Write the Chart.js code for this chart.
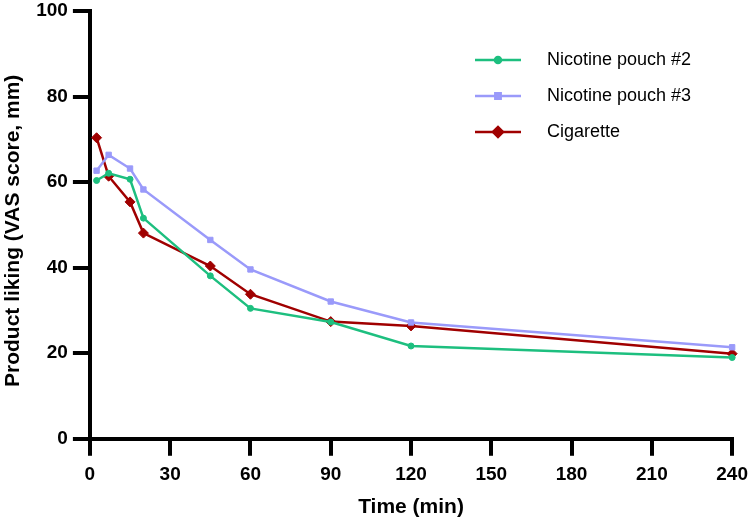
<!DOCTYPE html>
<html>
<head>
<meta charset="utf-8">
<script src="https://cdn.jsdelivr.net/npm/chart.js@4"></script>
<style>
  html, body { margin:0; padding:0; background:#fff; }
  #wrap { width:752px; height:520px; }
</style>
</head>
<body>
<div id="wrap"><canvas id="c" width="752" height="520"></canvas></div>
<script>
// ── data ───────────────────────────────────────────────────────────────────
const times   = [2.5, 7, 15, 20, 45, 60, 90, 120, 240];
const pouch2  = [60.4, 62.1, 60.7, 51.6, 38.1, 30.5, 27.3, 21.7, 19.0];
const pouch3  = [62.7, 66.4, 63.2, 58.3, 46.5, 39.6, 32.1, 27.2, 21.4];
const cigs    = [70.4, 61.4, 55.4, 48.1, 40.4, 33.8, 27.4, 26.4, 19.9];
const labels  = ["Nicotine pouch #2", "Nicotine pouch #3", "Cigarette"];

const C = { green:"#1DBF7F", blue:"#9A9AFA", red:"#A00000", ink:"#000" };
const FONT = "'Liberation Sans', Arial, sans-serif";

const pts = arr => arr.map((v,i)=>({ x:times[i], y:v }));

function series(label, data, color, style, radius){
  return { label, data:pts(data), borderColor:color, backgroundColor:color,
    borderWidth:2.5, pointStyle:style, pointRadius:radius, pointHoverRadius:radius,
    pointBorderWidth:1, pointBorderColor:color, tension:0, clip:false, fill:false };
}

// small canvas used as legend glyph: a line with the marker on it
function legendIcon(ds){
  const cv = document.createElement("canvas");
  cv.width = 63; cv.height = 14;
  const g = cv.getContext("2d");
  g.strokeStyle = ds.borderColor; g.fillStyle = ds.borderColor; g.lineWidth = 2.5;
  g.beginPath(); g.moveTo(0,7); g.lineTo(46,7); g.stroke();
  Chart.helpers.drawPoint(g, { pointStyle:ds.pointStyle, radius:ds.pointRadius, borderWidth:1 }, 23, 7);
  g.fill();
  return cv;
}

// move the legend to where the figure has it
const legendSpot = {
  id:"legendSpot",
  beforeDraw(chart){
    const lg = chart.legend; if(!lg) return;
    const pad = lg.options.labels.padding;
    const dx = (475 - pad) - lg.left, dy = (51 - pad) - lg.top;
    lg.left += dx; lg.right += dx; lg.top += dy; lg.bottom += dy;
  }
};

const titleFont = { family:FONT, size:21, weight:"bold" };
const axisGrid = { display:true, drawOnChartArea:false, drawTicks:true, tickLength:17,
                   tickWidth:4, tickColor:C.ink, color:C.ink, lineWidth:4 };

new Chart(document.getElementById("c"), {
  type:"line",
  data:{ datasets:[
    series(labels[0], pouch2, C.green, "circle", 3),
    series(labels[1], pouch3, C.blue, "rect", 3.8),
    series(labels[2], cigs, C.red, "rectRot", 5),
  ]},
  options:{
    responsive:false, animation:false, devicePixelRatio:1,
    layout:{ padding:{ top:0, right:0, bottom:0, left:0 } },
    plugins:{
      tooltip:{ enabled:false },
      legend:{ position:"chartArea", align:"start",
        labels:{ usePointStyle:true, pointStyleWidth:63, padding:18, color:C.ink,
          font:{ family:FONT, size:18 },
          generateLabels:(chart)=>chart.data.datasets.map((ds,i)=>({
            text:ds.label, pointStyle:legendIcon(ds), fontColor:C.ink, datasetIndex:i,
            hidden:false, lineWidth:0, strokeStyle:"transparent", fillStyle:"transparent" })) } },
    },
    scales:{
      x:{ type:"linear", min:0, max:240,
        grid:axisGrid, border:{ display:true, width:4, color:C.ink },
        ticks:{ stepSize:30, color:C.ink, font:{ family:FONT, size:19, weight:"bold", lineHeight:1.58 },
                padding:4, maxRotation:0 },
        title:{ display:true, text:"Time (min)", color:C.ink, font:titleFont, padding:{ top:1, bottom:0 } } },
      y:{ min:0, max:100,
        grid:axisGrid, border:{ display:true, width:4, color:C.ink },
        ticks:{ stepSize:20, color:C.ink, font:{ family:FONT, size:19, weight:"bold", lineHeight:0.65 }, padding:5 },
        // two trailing spaces nudge the rotated title down to where the figure has it
        title:{ display:true, text:"Product liking (VAS score, mm)  ", color:C.ink, font:titleFont, padding:{ top:1, bottom:5 } } },
    },
  },
  plugins:[legendSpot],
});
</script>
</body>
</html>
